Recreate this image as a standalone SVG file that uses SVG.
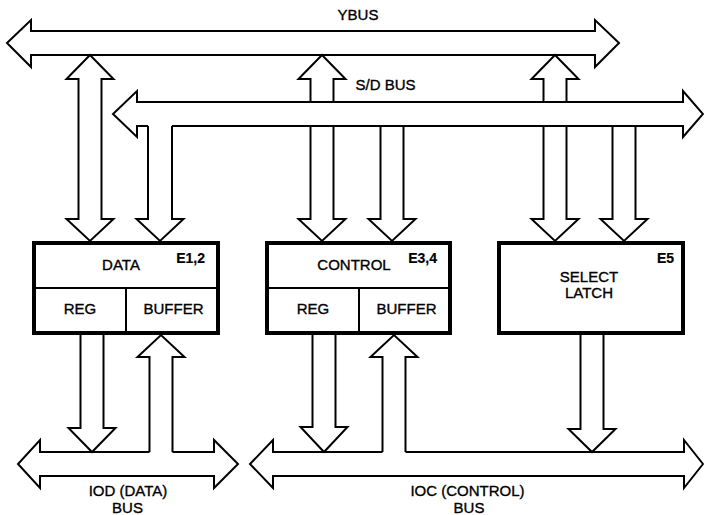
<svg xmlns="http://www.w3.org/2000/svg" width="704" height="515" viewBox="0 0 704 515">
<style>
.bus{fill:#fff;stroke:#000;stroke-width:2;stroke-linejoin:miter}
.arr{fill:none;stroke:#000;stroke-width:2;stroke-linejoin:miter}
.box{fill:#fff;stroke:#000;stroke-width:4}
.div{stroke:#000;stroke-width:2;fill:none}
text{font-family:"Liberation Sans",Arial,Helvetica,sans-serif;font-size:15px;fill:#000;stroke:#000;stroke-width:0.35;text-anchor:middle}
.id{font-weight:bold;font-size:14px;text-anchor:end;stroke-width:0.2}
</style>
<rect width="704" height="515" fill="#fff"/>
<g id="ybus">
<path class="bus" d="M7,43 L31,20 L31,31 L595,31 L595,20 L619,43 L595,67 L595,55 L31,55 L31,67 Z"/>
<text x="358" y="20">YBUS</text>
</g>
<g id="sdbus">
<path d="M137,126 L137,137 L113,114 L137,91 L137,102 L683,102 L683,91 L703,114 L683,137 L683,126 Z" fill="#fff"/>
<path class="arr" d="M148,126 L137,126 L137,137 L113,114 L137,91 L137,102 L683,102 L683,91 L703,114 L683,137 L683,126 L172,126"/>
<text x="385.5" y="90">S/D BUS</text>
</g>
<g id="iodbus">
<path class="arr" d="M149.5,452 L40,452 L40,440 L18,464 L40,488 L40,476 L214,476 L214,488 L238,464 L214,440 L214,452 L172.5,452"/>
<text x="128" y="496">IOD (DATA)</text>
<text x="127.5" y="513">BUS</text>
</g>
<g id="iocbus">
<path class="arr" d="M382.5,452 L273,452 L273,440 L250,464 L273,488 L273,476 L684,476 L684,488 L703,464 L684,440 L684,452 L405.5,452"/>
<text x="467.5" y="496">IOC (CONTROL)</text>
<text x="469" y="513">BUS</text>
</g>
<g id="data">
<rect class="box" x="34" y="243" width="184" height="90"/>
<line class="div" x1="34" y1="288" x2="218" y2="288"/>
<line class="div" x1="126" y1="288" x2="126" y2="333"/>
<text x="121" y="270">DATA</text>
<text class="id" x="205" y="263">E1,2</text>
<text x="80" y="314">REG</text>
<text x="173.5" y="314">BUFFER</text>
</g>
<g id="control">
<rect class="box" x="267" y="243" width="183" height="90"/>
<line class="div" x1="267" y1="288" x2="450" y2="288"/>
<line class="div" x1="359" y1="288" x2="359" y2="333"/>
<text x="354" y="270">CONTROL</text>
<text class="id" x="437" y="263">E3,4</text>
<text x="313" y="314">REG</text>
<text x="406.5" y="314">BUFFER</text>
</g>
<g id="select">
<rect class="box" x="499" y="243" width="184" height="90"/>
<text x="589" y="282">SELECT</text>
<text x="589" y="298">LATCH</text>
<text class="id" x="674" y="263">E5</text>
</g>
<g id="connectors">
<path class="arr" d="M90,55 L113.5,79 L101.5,79 L101.5,219 L113.5,219 L90,241 L66.5,219 L78.5,219 L78.5,79 L66.5,79 Z"/>
<path class="arr" d="M310.5,102 L310.5,79 L298.5,79 L322,55 L345.5,79 L333.5,79 L333.5,102"/>
<path class="arr" d="M310.5,126 L310.5,219 L298.5,219 L322,241 L345.5,219 L333.5,219 L333.5,126"/>
<path class="arr" d="M543.5,102 L543.5,79 L531.5,79 L555,55 L578.5,79 L566.5,79 L566.5,102"/>
<path class="arr" d="M543.5,126 L543.5,219 L531.5,219 L555,241 L578.5,219 L566.5,219 L566.5,126"/>
<path class="arr" d="M148,126 L148,219 L136.5,219 L160,241 L183.5,219 L172,219 L172,126"/>
<path class="arr" d="M380.5,126 L380.5,219 L368.5,219 L392,241 L415.5,219 L403.5,219 L403.5,126"/>
<path class="arr" d="M612.5,126 L612.5,219 L600.5,219 L624,241 L647.5,219 L635.5,219 L635.5,126"/>
<path class="arr" d="M80.5,335 L80.5,428 L68.5,428 L92,452 L115.5,428 L103.5,428 L103.5,335"/>
<path class="arr" d="M149.5,452 L149.5,357 L137.5,357 L161,335 L184.5,357 L172.5,357 L172.5,452"/>
<path class="arr" d="M312.5,335 L312.5,427 L300.5,427 L324,452 L347.5,427 L335.5,427 L335.5,335"/>
<path class="arr" d="M382.5,452 L382.5,357 L370.5,357 L394,335 L417.5,357 L405.5,357 L405.5,452"/>
<path class="arr" d="M580.5,335 L580.5,429 L568.5,429 L592,452 L615.5,429 L603.5,429 L603.5,335"/>
</g>
</svg>
